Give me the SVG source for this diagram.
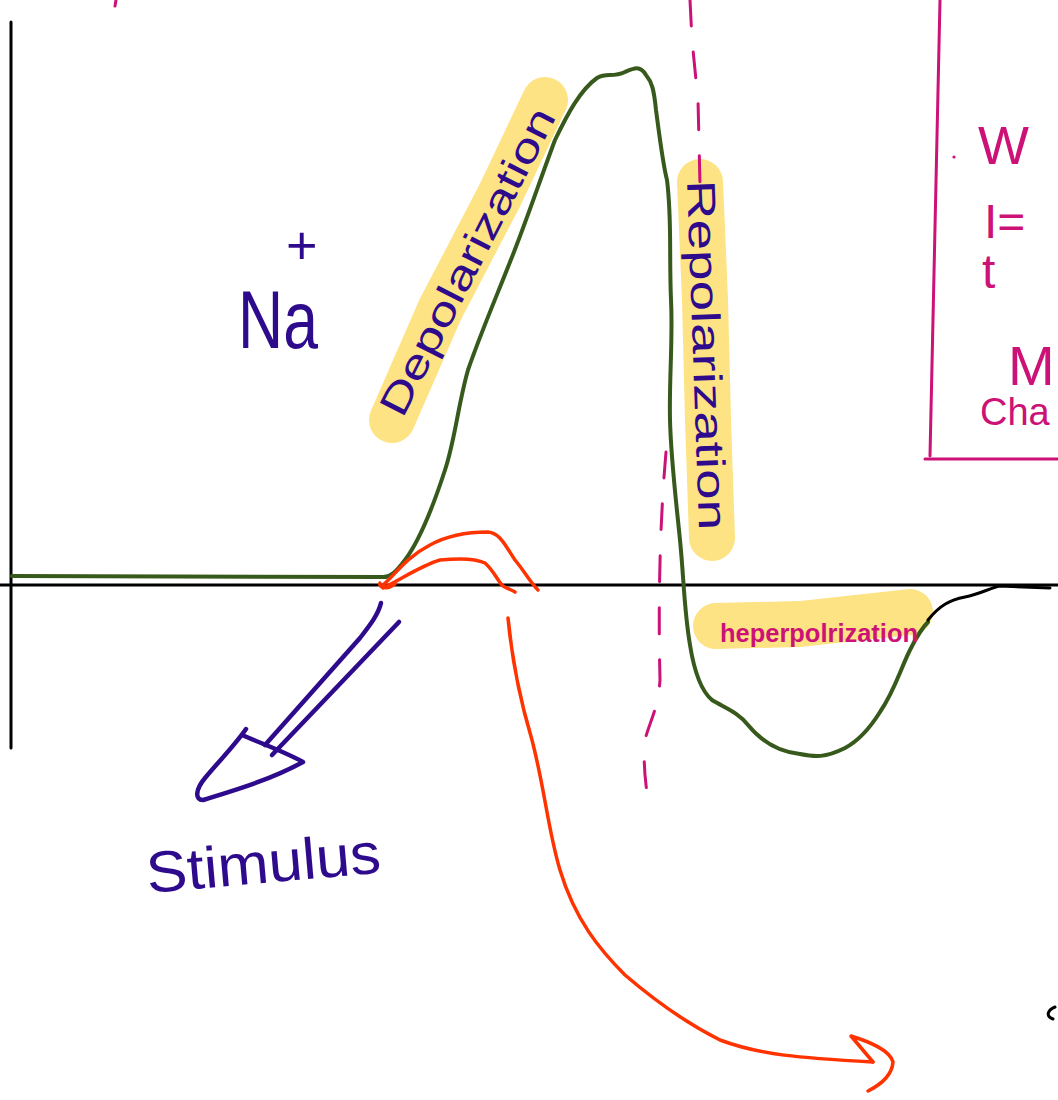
<svg xmlns="http://www.w3.org/2000/svg" width="1058" height="1100" viewBox="0 0 1058 1100">
<style>
.ax{stroke:#000;stroke-width:3;fill:none;stroke-linecap:round}
.hl{stroke:#fde383;stroke-width:46;fill:none;stroke-linecap:round;stroke-linejoin:round}
.gr{stroke:#375a1c;stroke-width:4;fill:none;stroke-linecap:round;stroke-linejoin:round}
.rd{stroke:#ff3300;stroke-width:3.5;fill:none;stroke-linecap:round;stroke-linejoin:round}
.pu{stroke:#2e0a8c;stroke-width:4.5;fill:none;stroke-linecap:round;stroke-linejoin:round}
.mg{stroke:#cc1177;stroke-width:3;fill:none;stroke-linecap:round}
.dash{stroke-dasharray:26 26}
.tp{fill:#2e0a8c;font-family:"Liberation Sans",Arial,sans-serif}
.tm{fill:#cc1177;font-family:"Liberation Sans",Arial,sans-serif}
</style>
<rect width="1058" height="1100" fill="#fff"/>

<g id="highlights">
<path class="hl" d="M392,420 L440,310 L500,195 L545,100"/>
<path class="hl" d="M700,182 L705,300 L708,420 L712,538"/>
<path class="hl" d="M716,626 L800,624 L910,612"/>
</g>

<g id="axes">
<path class="ax" d="M11,22 L11,748"/>
<path class="ax" d="M0,585 L1058,585"/>
<path class="ax" d="M1055,1007 C1048,1010 1045,1016 1053,1019"/>
</g>

<g id="connectors">
<path class="gr" d="M12,576 L382,577 C390,578 396,572 405,560 C420,540 432,510 445,470 C455,440 458,405 468,370 C480,335 495,300 510,262 C525,225 540,180 555,140 C567,115 580,90 597,78 C607,72 612,78 625,72 C634,68 640,65 646,75 C652,82 654,90 656,110 C660,140 663,165 667,180 C672,220 669,250 671,300 C673,340 669,380 670,420 C671,460 676,500 680,540 C684,580 684,610 690,645 C694,670 700,690 712,700 C725,708 738,712 748,725 C762,742 778,752 800,754 C815,757 825,758 845,748 C860,740 870,728 880,712 C895,690 900,670 910,650 C915,640 920,630 928,622"/>
<path class="ax" d="M928,620 C940,605 950,600 965,597 C980,594 990,588 1000,586 L1050,588"/>

<path class="mg dash" d="M690,0 L692,40 L698,100 L700,185"/>
<path class="mg dash" d="M666,452 C660,520 658,600 660,680 C658,710 650,720 645,740 C643,760 645,780 648,800"/>

<path class="mg" d="M940,0 L930,456"/>
<path class="mg" d="M925,459 L1058,459"/>
<path class="mg" d="M116,0 L115,6"/>
<circle cx="954" cy="157" r="1.6" fill="#cc1177"/>

<path class="rd" d="M383,585 C395,575 405,558 430,545 C450,534 470,532 488,532 C500,533 505,545 515,560 C525,572 530,582 538,590"/>
<path class="rd" d="M383,588 C400,580 420,566 440,560 C460,558 475,558 485,563 C495,572 498,582 503,586 C508,589 512,590 515,592"/>
<path class="rd" d="M380,583 C378,588 388,590 395,584"/>

<path class="rd" d="M508,618 C512,660 520,700 532,740 C545,790 548,830 560,870 C575,920 600,950 625,975 C660,1005 690,1025 720,1040 C760,1055 800,1058 873,1062"/>
<path class="rd" d="M873,1062 L851,1036 C870,1042 890,1050 893,1062 C892,1075 880,1085 868,1091"/>

<path class="pu" d="M381,603 C378,615 370,625 360,638 L265,745"/>
<path class="pu" d="M399,622 L272,755"/>
<path class="pu" d="M246,729 C235,745 220,760 205,778 C195,790 195,800 203,800 C235,790 270,780 303,762 C285,752 265,745 242,735"/>
</g>

<g id="labels">
<text class="tp" x="468" y="262" font-size="40" text-anchor="middle" transform="rotate(-63 468 262)" dy="13" textLength="340" lengthAdjust="spacingAndGlyphs">Depolarization</text>
<text class="tp" x="706" y="355" font-size="40" text-anchor="middle" transform="rotate(88 706 355)" dy="13" textLength="350" lengthAdjust="spacingAndGlyphs">Repolarization</text>
<text class="tm" x="720" y="642" font-size="26" font-weight="bold" textLength="198" lengthAdjust="spacingAndGlyphs">heperpolrization</text>
<text class="tp" x="238" y="348" font-size="82" textLength="80" lengthAdjust="spacingAndGlyphs">Na</text>
<text class="tp" x="286" y="264" font-size="54">+</text>
<text class="tp" x="148" y="893" font-size="58" transform="rotate(-5 148 893)" textLength="235" lengthAdjust="spacingAndGlyphs">Stimulus</text>
<text class="tm" x="978" y="164" font-size="54">W</text>
<text class="tm" x="984" y="238" font-size="48">I=</text>
<text class="tm" x="982" y="288" font-size="48">t</text>
<text class="tm" x="1008" y="385" font-size="56">M</text>
<text class="tm" x="980" y="425" font-size="38">Cha</text>
</g>
</svg>
